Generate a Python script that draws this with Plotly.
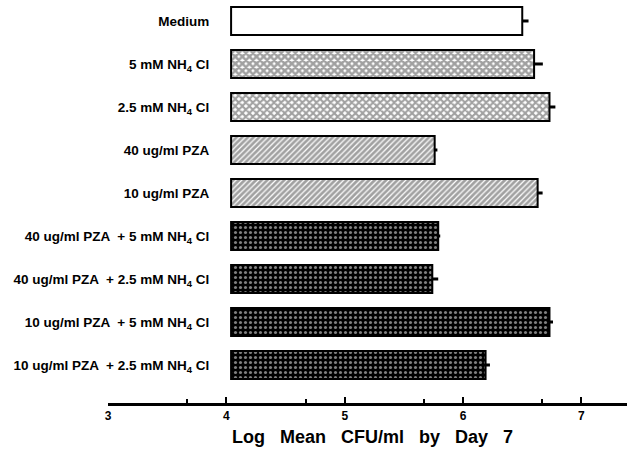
import plotly.graph_objects as go
import numpy as np

categories = [
    "Medium",
    "5 mM NH<sub>4</sub> Cl",
    "2.5 mM NH<sub>4</sub> Cl",
    "40 ug/ml PZA",
    "10 ug/ml PZA",
    "40 ug/ml PZA  + 5 mM NH<sub>4</sub> Cl",
    "40 ug/ml PZA  + 2.5 mM NH<sub>4</sub> Cl",
    "10 ug/ml PZA  + 5 mM NH<sub>4</sub> Cl",
    "10 ug/ml PZA  + 2.5 mM NH<sub>4</sub> Cl",
]
log_cfu = [6.50, 6.60, 6.73, 5.76, 6.63, 5.79, 5.74, 6.73, 6.19]
err = [0.053, 0.074, 0.05, 0.023, 0.042, 0.017, 0.05, 0.03, 0.037]
tick_vals = [3, 4, 5, 6, 7]
tick_labels = ["3", "4", "5", "6", "7"]
x_title = "Log\u00a0\u00a0\u00a0Mean\u00a0\u00a0\u00a0CFU/ml\u00a0\u00a0\u00a0by\u00a0\u00a0\u00a0Day\u00a0\u00a0\u00a07"

BASE = 4.04
vals = np.array(log_cfu)

shapes = ["", "x", "x", "/", "/", ".", ".", ".", "."]
fg = ["black", "black", "black", "black", "black", "white", "white", "white", "white"]
bg = ["white", "white", "white", "white", "white", "black", "black", "black", "black"]
mcol = ["white"] * 5 + ["black"] * 4
psize = [4, 5, 5, 4, 4, 5, 5, 5, 5]
psol = [0.3, 0.75, 0.65, 0.7, 0.7, 0.3, 0.3, 0.3, 0.3]

fig = go.Figure()
fig.add_trace(go.Bar(
    y=categories, x=vals - BASE, base=BASE, orientation="h", width=0.65,
    marker=dict(color=mcol, line=dict(color="black", width=2),
                pattern=dict(shape=shapes, fgcolor=fg, bgcolor=bg, size=psize,
                             solidity=psol, fillmode="overlay")),
    hoverinfo="skip", showlegend=False,
))
fig.add_trace(go.Scatter(
    y=categories, x=vals, mode="markers", marker=dict(size=1, opacity=0),
    error_x=dict(type="data", symmetric=False, array=err, arrayminus=[0] * len(err),
                 thickness=3, width=0, color="black"),
    hoverinfo="skip", showlegend=False,
))

fig.add_annotation(
    text=x_title, xref="paper", yref="paper", x=0.51, y=-0.0844,
    xanchor="center", yanchor="middle", showarrow=False,
    font=dict(size=18, family="Liberation Sans", weight="bold", color="black"),
)

fig.update_layout(
    width=627, height=459,
    margin=dict(l=108, r=0, t=0, b=56),
    paper_bgcolor="white", plot_bgcolor="white",
    font=dict(family="Liberation Sans", color="black"),
    xaxis=dict(
        range=[3, 7.385], tickvals=tick_vals, ticktext=tick_labels,
        showline=True, linewidth=3, linecolor="black",
        ticks="inside", ticklen=6, tickwidth=2, tickcolor="black",
        minor=dict(tick0=3.67, dtick=1, ticks="inside", ticklen=4, tickwidth=2, tickcolor="black"),
        showgrid=False, zeroline=False,
        tickfont=dict(size=12, family="Liberation Sans", weight="bold"),
        automargin=False,
    ),
    yaxis=dict(
        categoryorder="array", categoryarray=categories,
        range=[8.884, -0.488], anchor="free", position=0.195,
        showline=False, showgrid=False, zeroline=False, ticks="",
        tickfont=dict(size=13.5, family="Liberation Sans", weight="bold"),
        automargin=False,
    ),
)

fig.write_html("out.html", config={"displayModeBar": False},
               post_script="document.body.style.margin='0px';")
